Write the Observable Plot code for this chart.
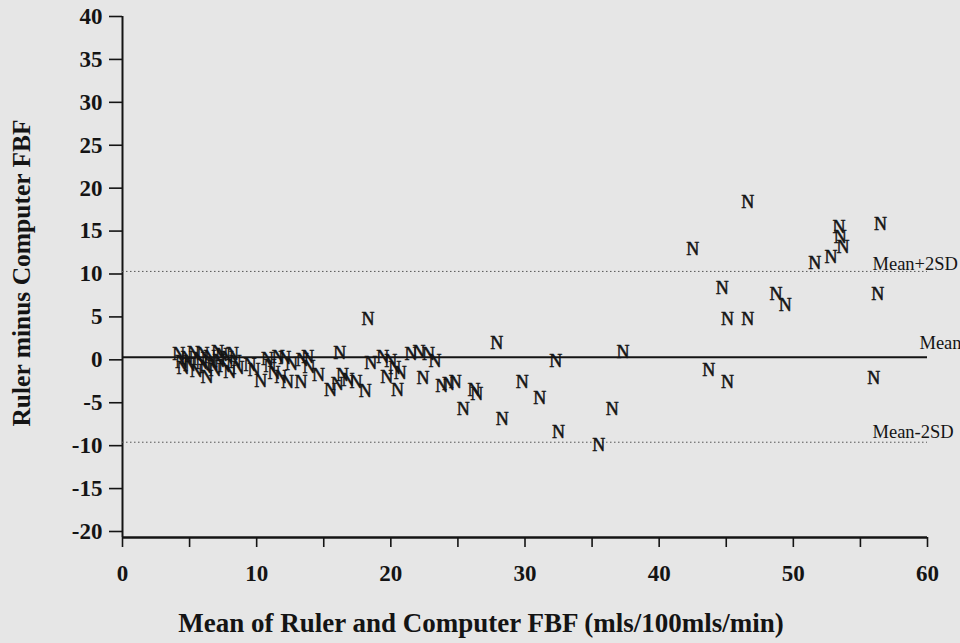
<!DOCTYPE html>
<html>
<head>
<meta charset="utf-8">
<script src="https://cdn.jsdelivr.net/npm/d3@7"></script>
<script src="https://cdn.jsdelivr.net/npm/@observablehq/plot@0.6"></script>
<style>
  html, body { margin: 0; padding: 0; background: #e6e6e6; }
  #chart svg { display: block; overflow: visible; }
</style>
</head>
<body>
<div id="chart"></div>
<script>
// Bland–Altman: mean of ruler & computer FBF (x) vs. difference (y)
const meanFBF = [
  4.2, 4.4, 4.5, 4.8, 5.0, 5.3, 5.5, 5.7, 5.9, 6.0, 6.2, 6.3, 6.5, 6.7, 6.9, 7.1, 7.2, 7.4, 7.6, 7.8, 8.0, 8.2, 8.4, 8.6,
  9.5, 9.8, 10.3, 10.8, 11.0, 11.3, 11.6, 11.8, 12.1, 12.3, 12.6, 13.3, 13.4, 13.8, 13.9, 14.6, 15.5, 16.0, 16.2, 16.4, 16.8, 17.4, 18.1,
  18.3, 18.5, 19.4, 19.7, 20.0, 20.3, 20.5, 20.7, 21.5, 22.1, 22.4, 22.8, 23.3, 23.8, 24.3, 24.8, 25.4, 26.2, 26.4,
  27.9, 28.3, 29.8, 31.1, 32.3, 32.5, 35.5, 36.5, 37.3,
  42.5, 43.7, 44.7, 45.1, 45.1, 46.6, 46.6, 48.7, 49.4, 51.6, 52.8, 53.4, 53.5, 53.7, 56.0, 56.3, 56.5
];
const diffFBF = [
  0.6, -0.3, -1.0, 0.2, -0.6, 0.8, -1.3, 0.1, -0.4, 0.7, -0.9, -2.0, 0.3, -0.5, -1.2, 0.9, -0.2, 0.5, -0.8, 0.2, -1.4, 0.6, -0.3, -1.0,
  -0.6, -1.2, -2.5, 0.1, -0.8, -1.6, 0.3, -2.0, 0.2, -2.6, -0.5, -2.6, 0.0, 0.3, -0.9, -1.8, -3.5, -2.9, 0.8, -1.8, -2.4, -2.6, -3.7,
  4.7, -0.4, 0.3, -2.0, -0.2, -1.0, -3.6, -1.6, 0.7, 0.9, -2.2, 0.7, -0.2, -3.1, -2.9, -2.6, -5.8, -3.5, -4.0,
  1.9, -6.9, -2.6, -4.5, -0.2, -8.4, -9.9, -5.7, 0.9,
  12.9, -1.2, 8.3, 4.7, -2.6, 18.4, 4.7, 7.7, 6.4, 11.2, 12.0, 15.5, 14.3, 13.1, -2.2, 7.6, 15.8
];
const refLabels = ["Mean+2SD", "Mean", "Mean-2SD"];
const refValues = [10.3, 0.3, -9.6];
const refDash = ["1.5,2.5", null, "1.5,2.5"];
const refLabelX = [55.9, 59.4, 55.9];
const refLabelY = [11.2, 2.0, -8.4];
const xTicks = [0, 5, 10, 15, 20, 25, 30, 35, 40, 45, 50, 55, 60];
const xTickLabels = [0, 10, 20, 30, 40, 50, 60];
const yTicks = [-20, -15, -10, -5, 0, 5, 10, 15, 20, 25, 30, 35, 40];
const xTitle = "Mean of Ruler and Computer FBF (mls/100mls/min)";
const yTitle = "Ruler minus Computer FBF";

const points = meanFBF.map((x, i) => ({x, y: diffFBF[i]}));
const refs = refLabels.map((label, i) => ({label, value: refValues[i], dash: refDash[i], lx: refLabelX[i], ly: refLabelY[i]}));

const FONT = "Liberation Serif, Times New Roman, serif";
const INK = "#141414";

const chart = Plot.plot({
  width: 960,
  height: 643,
  marginLeft: 122,
  marginRight: 33,
  marginTop: 16,
  marginBottom: 106,
  style: {background: "#e6e6e6", fontFamily: FONT, color: INK, overflow: "visible"},
  x: {domain: [0, 60]},
  y: {domain: [-20.7, 40]},
  marks: [
    // y axis
    Plot.axisY({ticks: yTicks, tickFormat: d => String(d), tickSize: 13, tickPadding: 7, fontSize: 23, fontWeight: "bold", label: null, stroke: INK, strokeWidth: 1.6}),
    Plot.ruleX([0], {y1: -20.7, y2: 40, stroke: INK, strokeWidth: 2}),
    // x axis
    Plot.axisX({ticks: xTicks, tickSize: 10, tickFormat: () => "", label: null, stroke: INK, strokeWidth: 1.6}),
    Plot.axisX({ticks: xTickLabels, tickFormat: d => String(d), tickSize: 0, tickPadding: 27, fontSize: 23, fontWeight: "bold", label: null}),
    Plot.ruleY([-20.7], {x1: 0, x2: 60, stroke: INK, strokeWidth: 2.5}),
    // reference lines
    ...refs.map(r => Plot.ruleY([r.value], {x1: 0, x2: 60, stroke: r.dash ? "#555" : INK, strokeWidth: r.dash ? 1 : 2, strokeDasharray: r.dash || undefined})),
    Plot.text(refs, {x: "lx", y: "ly", text: "label", textAnchor: "start", fontSize: 18.5, fill: INK}),
    // points
    Plot.text(points, {x: "x", y: "y", text: () => "N", fontSize: 18, fill: INK, stroke: INK, strokeWidth: 0.5}),
    // axis titles
    Plot.text([xTitle], {frameAnchor: "bottom", dx: -44, dy: 94, fontSize: 27, fontWeight: "bold", fill: INK}),
    Plot.text([yTitle], {frameAnchor: "left", textAnchor: "middle", dx: -101, dy: -4, rotate: -90, fontSize: 25.5, fontWeight: "bold", fill: INK})
  ]
});
document.getElementById("chart").appendChild(chart);
</script>
</body>
</html>
